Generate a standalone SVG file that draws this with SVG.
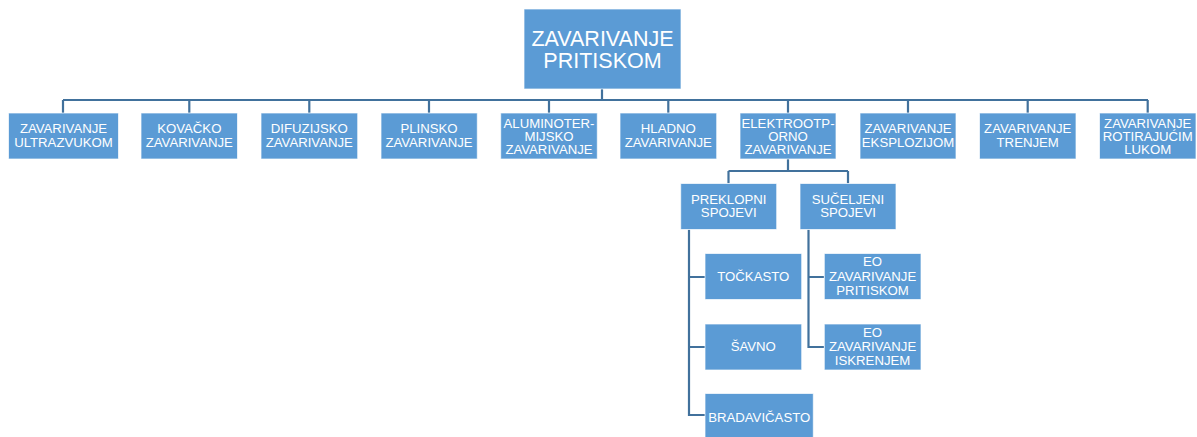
<svg xmlns="http://www.w3.org/2000/svg" width="1197" height="437" viewBox="0 0 1197 437">
<style>
.box{fill:#5B9BD5;stroke:#ffffff;stroke-opacity:0.7;stroke-width:1}
.t{fill:#ffffff;font-family:"Liberation Sans",Arial,sans-serif;font-size:13.2px;text-anchor:middle}
.tr{fill:#ffffff;font-family:"Liberation Sans",Arial,sans-serif;font-size:21.5px;text-anchor:middle}
.c{fill:none;stroke:#41719C;stroke-width:2.2}
</style>
<rect width="1197" height="437" fill="#ffffff"/>
<g id="connectors">
<path class="c" d="M602,89V100M63,100H1148M63,100V113M189.3,100V113M309.3,100V113M429,100V113M549,100V113M668.3,100V113M788,100V113M908,100V113M1027.7,100V113M1147.7,100V113"/>
<path class="c" d="M788,159V171M728.5,171H848M728.5,171V183.5M848,171V183.5"/>
<path class="c" d="M689,229.5V415H705M689,277H705M689,347H705"/>
<path class="c" d="M808.5,229.5V347H824M808.5,277H824"/>
</g>
<g id="root"><rect class="box" x="524" y="9" width="157" height="80"/><text class="tr" x="602.5" y="45.7">ZAVARIVANJE</text><text class="tr" x="602.5" y="67.7">PRITISKOM</text></g>
<g id="n0"><rect class="box" x="8.5" y="113" width="110" height="46"/><text class="t" x="63.5" y="133">ZAVARIVANJE</text><text class="t" x="63.5" y="147.4">ULTRAZVUKOM</text></g>
<g id="n1"><rect class="box" x="141" y="113" width="96.5" height="46"/><text class="t" x="189.3" y="133">KOVAČKO</text><text class="t" x="189.3" y="147.4">ZAVARIVANJE</text></g>
<g id="n2"><rect class="box" x="261" y="113" width="96.7" height="46"/><text class="t" x="309.3" y="133">DIFUZIJSKO</text><text class="t" x="309.3" y="147.4">ZAVARIVANJE</text></g>
<g id="n3"><rect class="box" x="381" y="113" width="96.3" height="46"/><text class="t" x="429" y="133">PLINSKO</text><text class="t" x="429" y="147.4">ZAVARIVANJE</text></g>
<g id="n4"><rect class="box" x="500.7" y="113" width="96.6" height="46"/><text class="t" x="549" y="127.5">ALUMINOTER-</text><text class="t" x="549" y="140.8">MIJSKO</text><text class="t" x="549" y="154.1">ZAVARIVANJE</text></g>
<g id="n5"><rect class="box" x="620" y="113" width="96.7" height="46"/><text class="t" x="668.3" y="133">HLADNO</text><text class="t" x="668.3" y="147.4">ZAVARIVANJE</text></g>
<g id="n6"><rect class="box" x="740" y="113" width="96" height="46"/><text class="t" x="788" y="127.5">ELEKTROOTP-</text><text class="t" x="788" y="140.8">ORNO</text><text class="t" x="788" y="154.1">ZAVARIVANJE</text></g>
<g id="n7"><rect class="box" x="860" y="113" width="96" height="46"/><text class="t" x="908" y="133">ZAVARIVANJE</text><text class="t" x="908" y="147.4">EKSPLOZIJOM</text></g>
<g id="n8"><rect class="box" x="979.5" y="113" width="96.5" height="46"/><text class="t" x="1027.7" y="133">ZAVARIVANJE</text><text class="t" x="1027.7" y="147.4">TRENJEM</text></g>
<g id="n9"><rect class="box" x="1099.5" y="113" width="96.5" height="46"/><text class="t" x="1147.7" y="127.5">ZAVARIVANJE</text><text class="t" x="1147.7" y="140.8">ROTIRAJUĆIM</text><text class="t" x="1147.7" y="154.1">LUKOM</text></g>
<g id="preklopni"><rect class="box" x="680.7" y="183.5" width="96" height="46"/><text class="t" x="728.7" y="204">PREKLOPNI</text><text class="t" x="728.7" y="217.4">SPOJEVI</text></g>
<g id="suceljeni"><rect class="box" x="800" y="183.5" width="96" height="46"/><text class="t" x="848" y="204">SUČELJENI</text><text class="t" x="848" y="217.4">SPOJEVI</text></g>
<g id="tockasto"><rect class="box" x="705" y="253.5" width="96.7" height="46"/><text class="t" x="753.3" y="280.7">TOČKASTO</text></g>
<g id="savno"><rect class="box" x="705" y="324" width="96.7" height="46"/><text class="t" x="753.3" y="351.4">ŠAVNO</text></g>
<g id="bradavicasto"><rect class="box" x="705" y="393.5" width="108.3" height="46"/><text class="t" x="759.2" y="421.7">BRADAVIČASTO</text></g>
<g id="eo1"><rect class="box" x="824.3" y="253.5" width="96.7" height="46"/><text class="t" x="872.6" y="266.4">EO</text><text class="t" x="872.6" y="280.7">ZAVARIVANJE</text><text class="t" x="872.6" y="294.7">PRITISKOM</text></g>
<g id="eo2"><rect class="box" x="824.3" y="324" width="96.7" height="46"/><text class="t" x="872.6" y="337">EO</text><text class="t" x="872.6" y="351.4">ZAVARIVANJE</text><text class="t" x="872.6" y="365.4">ISKRENJEM</text></g>
</svg>
